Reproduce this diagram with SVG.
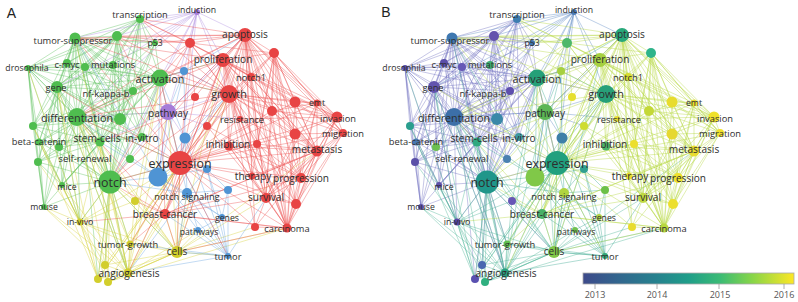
<svg xmlns="http://www.w3.org/2000/svg" xmlns:xlink="http://www.w3.org/1999/xlink" width="798" height="302" viewBox="0 0 798 302">
<style>
.e{fill:none;stroke-width:1;stroke-opacity:0.4}
.l{font-family:"Open Sans","Liberation Sans",sans-serif;fill:#2e2e2e;text-anchor:middle;dominant-baseline:central}
.f8{font-size:8.7px}.f9{font-size:9.3px}.f10{font-size:10.1px}.f11{font-size:10.8px}.f12{font-size:12.4px}
.G{fill:#4fbd4f}.R{fill:#e84444}.B{fill:#4f94d4}.P{fill:#a67cd8}.Y{fill:#d2ce2c}
.pl{font-family:"Liberation Sans",Arial,sans-serif;font-size:14px;fill:#222}
.tk{font-family:"Open Sans","Liberation Sans",sans-serif;font-size:9px;fill:#555;text-anchor:middle}
</style>
<defs>
<linearGradient id="vir" x1="0" y1="0" x2="1" y2="0">
<stop offset="0" stop-color="#3d4a8a"/><stop offset="0.18" stop-color="#31688e"/><stop offset="0.35" stop-color="#26828e"/><stop offset="0.5" stop-color="#1f9e89"/><stop offset="0.65" stop-color="#3bbb75"/><stop offset="0.8" stop-color="#86d549"/><stop offset="1" stop-color="#fde725"/>
</linearGradient>
<g id="eR">
<path class="e" d="M245 35L190 43M245 35L274 53M245 35L223 60M245 35L251 77M245 35L229 94M245 35L195 97M245 35L295 102M245 35L317 103M245 35L272 111M245 35L337 117M245 35L240 119M245 35L207 126M245 35L343 133M245 35L295 134M245 35L229 146M245 35L257 144M245 35L317 151M245 35L180 163M245 35L252 176M245 35L301 178M245 35L266 198M245 35L296 204M245 35L255 227M245 35L287 228M245 35L165 214M245 35L140 19M245 35L75 38M245 35L117 36M245 35L155 43M245 35L160 78M245 35L168 112M245 35L77 117M245 35L110 182"/>
<path class="e" d="M229 94L274 53M229 94L295 102M229 94L317 103M229 94L337 117M229 94L343 133M229 94L295 134M229 94L317 151M229 94L180 163M229 94L252 176M229 94L301 178M229 94L266 198M229 94L296 204M229 94L255 227M229 94L287 228M229 94L165 214M229 94L160 78M229 94L77 117M229 94L110 182M229 94L75 38M229 94L117 36M229 94L140 19M229 94L177 252M229 94L100 142M229 94L190 43M229 94L223 60M229 94L251 77M229 94L272 111M229 94L207 126M229 94L229 146M229 94L257 144"/>
<path class="e" d="M180 163L274 53M180 163L295 102M180 163L317 103M180 163L337 117M180 163L343 133M180 163L295 134M180 163L317 151M180 163L252 176M180 163L301 178M180 163L266 198M180 163L296 204M180 163L255 227M180 163L287 228M180 163L165 214M180 163L223 60M180 163L251 77M180 163L190 43M180 163L160 78M180 163L77 117M180 163L110 182M180 163L75 38M180 163L117 36M180 163L57 87M180 163L177 252M180 163L130 244M180 163L128 273M180 163L228 256M180 163L272 111M180 163L240 119M180 163L229 146M180 163L257 144M180 163L207 126M180 163L195 97"/>
<path class="e" d="M223 60L274 53M223 60L295 102M223 60L317 103M223 60L337 117M223 60L343 133M223 60L295 134M223 60L317 151M223 60L252 176M223 60L301 178M223 60L266 198M223 60L296 204M223 60L287 228M223 60L251 77M223 60L160 78M223 60L75 38M223 60L140 19M223 60L272 111M223 60L229 146M223 60L165 214M223 60L77 117"/>
<path class="e" d="M274 53L317 103M274 53L337 117M274 53L343 133M274 53L317 151M274 53L295 102M274 53L295 134M274 53L272 111M274 53L301 178M274 53L266 198M274 53L287 228M274 53L296 204M274 53L251 77M274 53L257 144M274 53L252 176"/>
<path class="e" d="M317 151L337 117M317 151L343 133M317 151L317 103M317 151L295 102M317 151L272 111M317 151L295 134M317 151L301 178M317 151L266 198M317 151L296 204M317 151L287 228M317 151L255 227M317 151L252 176M317 151L257 144M317 151L240 119M317 151L229 146M317 151L165 214M317 151L251 77"/>
<path class="e" d="M287 228L337 117M287 228L343 133M287 228L317 103M287 228L295 102M287 228L272 111M287 228L295 134M287 228L301 178M287 228L266 198M287 228L296 204M287 228L252 176M287 228L257 144M287 228L229 146M287 228L165 214M287 228L177 252M287 228L255 227M287 228L251 77M287 228L240 119"/>
<path class="e" d="M337 117L343 133M337 117L317 103M337 117L295 102M337 117L272 111M337 117L295 134M337 117L301 178M337 117L266 198M337 117L296 204M343 133L317 103M343 133L295 102M343 133L295 134M343 133L301 178M343 133L266 198M343 133L296 204M317 103L295 102M317 103L272 111M317 103L301 178M317 103L266 198"/>
<path class="e" d="M190 43L223 60M190 43L229 94M190 43L195 97M190 43L160 78M190 43L75 38M190 43L140 19M190 43L117 36M190 43L77 117M190 43L110 182M190 43L251 77M190 43L274 53"/>
<path class="e" d="M229 146L301 178M229 146L266 198M229 146L296 204M207 126L266 198M207 126L301 178M257 144L301 178M240 119L337 117M252 176L301 178M266 198L301 178M266 198L296 204M165 214L266 198M165 214L287 228M251 77L337 117M251 77L317 151M251 77L266 198M295 102L301 178M272 111L266 198M295 134L266 198M255 227L266 198M296 204L301 178"/>
<path class="e" d="M165 214L110 182M165 214L80 222M165 214L135 201M165 214L177 252M165 214L130 244M165 214L77 117M165 214L160 78M165 214L223 60M165 214L317 151M165 214L301 178"/>
</g>
<g id="eG">
<path class="e" d="M75 38L140 19M75 38L117 36M75 38L155 43M75 38L28 68M75 38L67 63M75 38L85 67M75 38L113 65M75 38L160 78M75 38L57 87M75 38L133 91M75 38L77 117M75 38L120 119M75 38L33 126M75 38L39 142M75 38L100 142M75 38L142 137M75 38L38 162M75 38L110 182M75 38L62 185M75 38L168 112M75 38L59 147M75 38L129 159"/>
<path class="e" d="M140 19L117 36M140 19L155 43M140 19L67 63M140 19L113 65M140 19L160 78M140 19L57 87M140 19L133 91M140 19L77 117M140 19L120 119M140 19L100 142M140 19L142 137M140 19L110 182M140 19L85 67M140 19L28 68"/>
<path class="e" d="M117 36L155 43M117 36L28 68M117 36L67 63M117 36L85 67M117 36L113 65M117 36L160 78M117 36L57 87M117 36L133 91M117 36L77 117M117 36L120 119M117 36L100 142M117 36L110 182M117 36L33 126M117 36L142 137M117 36L129 159"/>
<path class="e" d="M57 87L28 68M57 87L67 63M57 87L85 67M57 87L113 65M57 87L160 78M57 87L77 117M57 87L120 119M57 87L33 126M57 87L39 142M57 87L59 147M57 87L100 142M57 87L142 137M57 87L38 162M57 87L110 182M57 87L62 185M57 87L44 207M57 87L133 91M57 87L155 43"/>
<path class="e" d="M77 117L28 68M77 117L67 63M77 117L85 67M77 117L113 65M77 117L160 78M77 117L133 91M77 117L120 119M77 117L33 126M77 117L39 142M77 117L59 147M77 117L100 142M77 117L142 137M77 117L38 162M77 117L129 159M77 117L110 182M77 117L62 185M77 117L44 207M77 117L180 163M77 117L168 112M77 117L155 43"/>
<path class="e" d="M110 182L28 68M110 182L67 63M110 182L85 67M110 182L113 65M110 182L160 78M110 182L133 91M110 182L120 119M110 182L33 126M110 182L39 142M110 182L59 147M110 182L100 142M110 182L142 137M110 182L38 162M110 182L129 159M110 182L62 185M110 182L44 207M110 182L180 163M110 182L80 222M110 182L128 273M110 182L130 244M110 182L105 265M110 182L177 252M110 182L155 43M110 182L98 279"/>
<path class="e" d="M160 78L155 43M160 78L67 63M160 78L85 67M160 78L113 65M160 78L133 91M160 78L120 119M160 78L100 142M160 78L142 137M160 78L129 159M160 78L180 163M160 78L229 94M160 78L223 60M160 78L62 185M160 78L39 142M160 78L33 126M160 78L28 68M160 78L38 162"/>
<path class="e" d="M28 68L67 63M28 68L85 67M28 68L33 126M28 68L39 142M28 68L38 162M28 68L100 142M28 68L120 119M28 68L113 65M28 68L133 91M28 68L44 207"/>
<path class="e" d="M44 207L38 162M44 207L33 126M44 207L39 142M44 207L100 142M44 207L59 147M62 185L38 162M62 185L100 142M62 185L39 142M62 185L120 119M38 162L100 142M38 162L120 119M33 126L100 142M33 126L120 119M39 142L100 142M39 142L142 137M59 147L100 142M67 63L133 91M67 63L120 119M67 63L113 65M85 67L120 119M85 67L100 142M113 65L120 119M113 65L142 137M133 91L100 142M133 91L120 119M100 142L142 137M155 43L120 119M155 43L100 142"/>
<path class="e" d="M57 87L128 273M77 117L128 273M77 117L80 222M57 87L80 222M75 38L98 279M28 68L80 222M33 126L80 222"/>
</g>
<g id="eY">
<path class="e" d="M128 273L130 244M128 273L177 252M128 273L135 201M128 273L80 222M128 273L105 265M128 273L98 279M128 273L108 282M128 273L110 182M128 273L180 163M128 273L100 142M128 273L77 117M128 273L44 207M128 273L62 185M128 273L57 87M128 273L168 112M128 273L229 94M128 273L165 214M128 273L75 38M128 273L160 78M128 273L198 230"/>
<path class="e" d="M80 222L130 244M80 222L177 252M80 222L105 265M80 222L98 279M80 222L108 282M80 222L44 207M80 222L62 185M80 222L38 162M80 222L33 126M80 222L39 142M80 222L100 142M80 222L110 182M80 222L180 163M80 222L28 68M80 222L57 87M80 222L135 201"/>
<path class="e" d="M177 252L130 244M177 252L135 201M177 252L105 265M177 252L98 279M177 252L108 282M177 252L180 163M177 252L110 182M177 252L165 214M177 252L287 228M177 252L229 94M177 252L168 112M177 252L187 193M177 252L198 230M177 252L228 256M177 252L255 227M177 252L266 198M177 252L317 151M177 252L223 60M177 252L77 117M177 252L100 142"/>
<path class="e" d="M105 265L110 182M98 279L110 182M108 282L110 182M105 265L180 163M98 279L180 163M108 282L180 163M130 244L110 182M130 244L180 163M135 201L110 182M135 201L180 163M108 282L177 252M98 279L80 222M105 265L77 117M98 279L57 87M108 282L100 142M130 244L77 117M105 265L44 207M98 279L33 126M135 201L77 117M135 201L160 78M108 282L287 228M98 279L229 94"/>
</g>
<g id="eB">
<path class="e" d="M228 256L222 217M228 256L198 230M228 256L187 193M228 256L228 190M228 256L207 169M228 256L180 163M228 256L158 177M228 256L177 252M228 256L165 214M228 256L128 273M228 256L130 244M228 256L185 138M228 256L266 198"/>
<path class="e" d="M158 177L187 193M158 177L207 169M158 177L222 217M158 177L198 230M158 177L180 163M158 177L110 182M158 177L77 117M158 177L168 112M158 177L160 78M158 177L185 138M158 177L184 71M158 177L100 142M158 177L229 94M158 177L75 38"/>
<path class="e" d="M187 193L222 217M187 193L198 230M187 193L228 190M187 193L207 169M187 193L185 138M187 193L180 163M187 193L110 182M187 193L177 252M187 193L128 273"/>
<path class="e" d="M185 138L184 71M185 138L180 163M185 138L160 78M184 71L229 94M184 71L168 112M184 71L160 78M228 190L207 169M228 190L222 217M207 169L222 217M198 230L222 217M185 138L229 94M184 71L245 35"/>
</g>
<g id="eP">
<path class="e" d="M197 12L140 19M197 12L75 38M197 12L117 36M197 12L155 43M197 12L160 78M197 12L168 112M197 12L245 35M197 12L190 43M197 12L223 60M197 12L229 94M197 12L180 163M197 12L77 117M197 12L110 182M197 12L113 65M197 12L57 87M197 12L184 71"/>
<path class="e" d="M168 112L160 78M168 112L180 163M168 112L229 94M168 112L223 60M168 112L245 35M168 112L77 117M168 112L110 182M168 112L158 177M168 112L185 138M168 112L100 142M168 112L207 126M168 112L240 119"/>
</g>
</defs>

<g id="connectors">
<g id="edges-A">
<use xlink:href="#eG" stroke="#5cc05c"/>
<use xlink:href="#eY" stroke="#d6d23a"/>
<use xlink:href="#eB" stroke="#6aa6e0"/>
<use xlink:href="#eP" stroke="#b08ee0"/>
<use xlink:href="#eR" stroke="#ee5252"/>
</g>
<g id="edges-B" transform="translate(377,0)">
<use xlink:href="#eG" stroke="#7070c0"/>
<use xlink:href="#eY" stroke="#4ab496"/>
<use xlink:href="#eB" stroke="#3aa890"/>
<use xlink:href="#eP" stroke="#5a86c4"/>
<use xlink:href="#eR" stroke="#b4d83c"/>
</g>
</g>

<text class="pl" x="11.5" y="18" text-anchor="middle">A</text>
<text class="pl" x="386" y="17" text-anchor="middle">B</text>

<g id="nodes-A">
<g id="A-n1"><circle cx="117" cy="36" r="5" class="G"/></g>
<g id="A-n2"><circle cx="85" cy="67" r="4" class="G"/></g>
<g id="A-n3"><circle cx="184" cy="71" r="4" class="B"/></g>
<g id="A-n4"><circle cx="120" cy="119" r="6" class="G"/></g>
<g id="A-n5"><circle cx="195" cy="97" r="4" class="R"/></g>
<g id="A-n6"><circle cx="33" cy="126" r="4" class="G"/></g>
<g id="A-n7"><circle cx="59" cy="147" r="4" class="G"/></g>
<g id="A-n8"><circle cx="185" cy="138" r="5.5" class="B"/></g>
<g id="A-n9"><circle cx="190" cy="43" r="5" class="R"/></g>
<g id="A-n10"><circle cx="274" cy="53" r="5" class="R"/></g>
<g id="A-n11"><circle cx="295" cy="102" r="5.5" class="R"/></g>
<g id="A-n12"><circle cx="272" cy="111" r="5" class="R"/></g>
<g id="A-n13"><circle cx="207" cy="126" r="4" class="R"/></g>
<g id="A-n14"><circle cx="295" cy="134" r="5.5" class="R"/></g>
<g id="A-n15"><circle cx="257" cy="144" r="4" class="R"/></g>
<g id="A-n16"><circle cx="130" cy="159" r="4" class="G"/></g>
<g id="A-n17"><circle cx="158" cy="177" r="9.5" class="B"/></g>
<g id="A-n18"><circle cx="135" cy="201" r="4" class="Y"/></g>
<g id="A-n19"><circle cx="207" cy="169" r="4" class="B"/></g>
<g id="A-n20"><circle cx="228" cy="190" r="4" class="B"/></g>
<g id="A-n21"><circle cx="296" cy="204" r="5" class="R"/></g>
<g id="A-n22"><circle cx="255" cy="227" r="4" class="R"/></g>
<g id="A-n23"><circle cx="105" cy="265" r="4" class="Y"/></g>
<g id="A-n24"><circle cx="98" cy="279" r="4" class="Y"/></g>
<g id="A-n25"><circle cx="108" cy="282" r="4" class="Y"/></g>
<g id="A-expression"><circle cx="180" cy="163" r="12" class="R"/><text class="l f12" x="180" y="163">expression</text></g>
<g id="A-notch"><circle cx="110" cy="182" r="11.5" class="G"/><text class="l f12" x="110" y="182">notch</text></g>
<g id="A-growth"><circle cx="229" cy="94" r="9" class="R"/><text class="l f11" x="229" y="93">growth</text></g>
<g id="A-differentiation"><circle cx="77" cy="117" r="9" class="G"/><text class="l f11" x="77" y="117">differentiation</text></g>
<g id="A-activation"><circle cx="160" cy="78" r="8.5" class="G"/><text class="l f11" x="160" y="78">activation</text></g>
<g id="A-pathway"><circle cx="168" cy="112" r="8" class="P"/><text class="l f10" x="168" y="113">pathway</text></g>
<g id="A-apoptosis"><circle cx="245" cy="35" r="7" class="R"/><text class="l f10" x="245" y="34">apoptosis</text></g>
<g id="A-proliferation"><circle cx="223" cy="60" r="7" class="R"/><text class="l f10" x="223" y="59">proliferation</text></g>
<g id="A-transcription"><circle cx="140" cy="19" r="4" class="G"/><text class="l f9" x="140" y="14">transcription</text></g>
<g id="A-induction"><circle cx="197" cy="12" r="3" class="P"/><text class="l f8" x="197" y="10">induction</text></g>
<g id="A-tumor-suppressor"><circle cx="75" cy="38" r="5.5" class="G"/><text class="l f9" x="73" y="40">tumor-suppressor</text></g>
<g id="A-p53"><circle cx="155" cy="43" r="3" class="G"/><text class="l f8" x="155" y="43">p53</text></g>
<g id="A-drosophila"><circle cx="28" cy="68" r="3" class="G"/><text class="l f8" x="27" y="68">drosophila</text></g>
<g id="A-c-myc"><circle cx="67" cy="63" r="4" class="G"/><text class="l f9" x="67" y="64">c-myc</text></g>
<g id="A-mutations"><circle cx="113" cy="65" r="4" class="G"/><text class="l f9" x="113" y="64">mutations</text></g>
<g id="A-notch1"><circle cx="251" cy="77" r="4" class="R"/><text class="l f9" x="251" y="77">notch1</text></g>
<g id="A-gene"><circle cx="57" cy="87" r="6" class="G"/><text class="l f9" x="56" y="87">gene</text></g>
<g id="A-nf-kappa-b"><circle cx="133" cy="91" r="4" class="G"/><text class="l f9" x="106" y="93">nf-kappa-b</text></g>
<g id="A-emt"><circle cx="317" cy="103" r="3.5" class="R"/><text class="l f8" x="317" y="103">emt</text></g>
<g id="A-invasion"><circle cx="337" cy="117" r="5.5" class="R"/><text class="l f9" x="338" y="118">invasion</text></g>
<g id="A-resistance"><circle cx="240" cy="119" r="3" class="R"/><text class="l f9" x="242" y="119">resistance</text></g>
<g id="A-migration"><circle cx="343" cy="133" r="4" class="R"/><text class="l f9" x="343" y="133">migration</text></g>
<g id="A-stem-cells"><circle cx="100" cy="142" r="4.5" class="G"/><text class="l f10" x="97" y="138">stem-cells</text></g>
<g id="A-in-vitro"><circle cx="142" cy="137" r="4" class="G"/><text class="l f10" x="142" y="138">in-vitro</text></g>
<g id="A-beta-catenin"><circle cx="39" cy="142" r="3.5" class="G"/><text class="l f9" x="39" y="141">beta-catenin</text></g>
<g id="A-inhibition"><circle cx="229" cy="146" r="4.5" class="R"/><text class="l f10" x="228" y="144">inhibition</text></g>
<g id="A-metastasis"><circle cx="317" cy="151" r="5.5" class="R"/><text class="l f10" x="317" y="149">metastasis</text></g>
<g id="A-self-renewal"><circle cx="38" cy="162" r="4" class="G"/><text class="l f9" x="85" y="158">self-renewal</text></g>
<g id="A-therapy"><circle cx="252" cy="176" r="3.5" class="R"/><text class="l f10" x="253" y="176">therapy</text></g>
<g id="A-progression"><circle cx="301" cy="178" r="5" class="R"/><text class="l f10" x="301" y="178">progression</text></g>
<g id="A-mice"><circle cx="62" cy="185" r="3" class="G"/><text class="l f8" x="67" y="187">mice</text></g>
<g id="A-notch-signaling"><circle cx="187" cy="193" r="5" class="B"/><text class="l f9" x="187" y="196">notch signaling</text></g>
<g id="A-survival"><circle cx="266" cy="198" r="5" class="R"/><text class="l f10" x="266" y="197">survival</text></g>
<g id="A-mouse"><circle cx="44" cy="207" r="3" class="G"/><text class="l f8" x="44" y="207">mouse</text></g>
<g id="A-breast-cancer"><circle cx="165" cy="214" r="5" class="R"/><text class="l f10" x="165" y="214">breast-cancer</text></g>
<g id="A-genes"><circle cx="222" cy="217" r="3" class="B"/><text class="l f8" x="227" y="218">genes</text></g>
<g id="A-in-vivo"><circle cx="80" cy="222" r="3.5" class="Y"/><text class="l f8" x="80" y="222">in-vivo</text></g>
<g id="A-carcinoma"><circle cx="287" cy="228" r="4.5" class="R"/><text class="l f9" x="287" y="228">carcinoma</text></g>
<g id="A-pathways"><circle cx="198" cy="230" r="3" class="B"/><text class="l f8" x="199" y="232">pathways</text></g>
<g id="A-tumor-growth"><circle cx="130" cy="244" r="3.5" class="Y"/><text class="l f9" x="128" y="244">tumor-growth</text></g>
<g id="A-cells"><circle cx="177" cy="252" r="6" class="Y"/><text class="l f10" x="177" y="251">cells</text></g>
<g id="A-tumor"><circle cx="228" cy="256" r="3" class="B"/><text class="l f9" x="228" y="256">tumor</text></g>
<g id="A-angiogenesis"><circle cx="128" cy="273" r="4.5" class="Y"/><text class="l f10" x="129" y="273">angiogenesis</text></g>
</g>

<g id="nodes-B">
<g id="B-n1"><circle cx="494" cy="36" r="5" fill="#6452ad"/></g>
<g id="B-n2"><circle cx="462" cy="67" r="4" fill="#6658b6"/></g>
<g id="B-n3"><circle cx="561" cy="71" r="4" fill="#a6d040"/></g>
<g id="B-n4"><circle cx="497" cy="119" r="6" fill="#3a88a8"/></g>
<g id="B-n5"><circle cx="572" cy="97" r="4" fill="#e6df2e"/></g>
<g id="B-n6"><circle cx="410" cy="126" r="4" fill="#2a9e8e"/></g>
<g id="B-n7"><circle cx="436" cy="147" r="4" fill="#6cc050"/></g>
<g id="B-n8"><circle cx="562" cy="138" r="5.5" fill="#3d7fa8"/></g>
<g id="B-n9"><circle cx="567" cy="43" r="5" fill="#4db86a"/></g>
<g id="B-n10"><circle cx="651" cy="53" r="5" fill="#2fb48a"/></g>
<g id="B-n11"><circle cx="672" cy="102" r="5.5" fill="#e8dc2e"/></g>
<g id="B-n12"><circle cx="649" cy="111" r="5" fill="#c4d838"/></g>
<g id="B-n13"><circle cx="584" cy="126" r="4" fill="#cedc30"/></g>
<g id="B-n14"><circle cx="672" cy="134" r="5.5" fill="#e6d830"/></g>
<g id="B-n15"><circle cx="634" cy="144" r="4" fill="#ecdf2e"/></g>
<g id="B-n16"><circle cx="507" cy="159" r="4" fill="#4a80b0"/></g>
<g id="B-n17"><circle cx="535" cy="177" r="9.5" fill="#80c848"/></g>
<g id="B-n18"><circle cx="512" cy="201" r="4" fill="#6656b6"/></g>
<g id="B-n19"><circle cx="584" cy="169" r="4" fill="#30a090"/></g>
<g id="B-n20"><circle cx="605" cy="190" r="4" fill="#6cc048"/></g>
<g id="B-n21"><circle cx="673" cy="204" r="5" fill="#ecdf2e"/></g>
<g id="B-n22"><circle cx="632" cy="227" r="4" fill="#e8dc2e"/></g>
<g id="B-n23"><circle cx="482" cy="265" r="4" fill="#4a68b0"/></g>
<g id="B-n24"><circle cx="475" cy="279" r="4" fill="#5a50b0"/></g>
<g id="B-n25"><circle cx="485" cy="282" r="4" fill="#30b080"/></g>
<g id="B-expression"><circle cx="557" cy="163" r="12" fill="#21a07e"/><text class="l f12" x="557" y="163">expression</text></g>
<g id="B-notch"><circle cx="487" cy="182" r="11.5" fill="#20968a"/><text class="l f12" x="487" y="182">notch</text></g>
<g id="B-growth"><circle cx="606" cy="94" r="9" fill="#27a078"/><text class="l f11" x="606" y="93">growth</text></g>
<g id="B-differentiation"><circle cx="454" cy="117" r="9" fill="#3c6fa8"/><text class="l f11" x="454" y="117">differentiation</text></g>
<g id="B-activation"><circle cx="537" cy="78" r="8.5" fill="#25a078"/><text class="l f11" x="537" y="78">activation</text></g>
<g id="B-pathway"><circle cx="545" cy="112" r="8" fill="#5cb654"/><text class="l f10" x="545" y="113">pathway</text></g>
<g id="B-apoptosis"><circle cx="622" cy="35" r="7" fill="#27a87a"/><text class="l f10" x="622" y="34">apoptosis</text></g>
<g id="B-proliferation"><circle cx="600" cy="60" r="7" fill="#a6d040"/><text class="l f10" x="600" y="59">proliferation</text></g>
<g id="B-transcription"><circle cx="517" cy="19" r="4" fill="#3d7db0"/><text class="l f9" x="517" y="14">transcription</text></g>
<g id="B-induction"><circle cx="574" cy="12" r="3" fill="#4a7ab4"/><text class="l f8" x="574" y="10">induction</text></g>
<g id="B-tumor-suppressor"><circle cx="452" cy="38" r="5.5" fill="#3f78b0"/><text class="l f9" x="450" y="40">tumor-suppressor</text></g>
<g id="B-p53"><circle cx="532" cy="43" r="3" fill="#3f74ae"/><text class="l f8" x="532" y="43">p53</text></g>
<g id="B-drosophila"><circle cx="405" cy="68" r="3" fill="#574da6"/><text class="l f8" x="404" y="68">drosophila</text></g>
<g id="B-c-myc"><circle cx="444" cy="63" r="4" fill="#5a4ea8"/><text class="l f9" x="444" y="64">c-myc</text></g>
<g id="B-mutations"><circle cx="490" cy="65" r="4" fill="#3fae72"/><text class="l f9" x="490" y="64">mutations</text></g>
<g id="B-notch1"><circle cx="628" cy="77" r="4" fill="#d6dc30"/><text class="l f9" x="628" y="77">notch1</text></g>
<g id="B-gene"><circle cx="434" cy="87" r="6" fill="#6254ae"/><text class="l f9" x="433" y="87">gene</text></g>
<g id="B-nf-kappa-b"><circle cx="510" cy="91" r="4" fill="#5e4fad"/><text class="l f9" x="483" y="93">nf-kappa-b</text></g>
<g id="B-emt"><circle cx="694" cy="103" r="3.5" fill="#e8dc2e"/><text class="l f8" x="694" y="103">emt</text></g>
<g id="B-invasion"><circle cx="714" cy="117" r="5.5" fill="#f0e12c"/><text class="l f9" x="715" y="118">invasion</text></g>
<g id="B-resistance"><circle cx="617" cy="119" r="3" fill="#e6dc30"/><text class="l f9" x="619" y="119">resistance</text></g>
<g id="B-migration"><circle cx="720" cy="133" r="4" fill="#f0e12c"/><text class="l f9" x="720" y="133">migration</text></g>
<g id="B-stem-cells"><circle cx="477" cy="142" r="4.5" fill="#2fa880"/><text class="l f10" x="474" y="138">stem-cells</text></g>
<g id="B-in-vitro"><circle cx="519" cy="137" r="4" fill="#3a98a0"/><text class="l f10" x="519" y="138">in-vitro</text></g>
<g id="B-beta-catenin"><circle cx="416" cy="142" r="3.5" fill="#4a78b0"/><text class="l f9" x="416" y="141">beta-catenin</text></g>
<g id="B-inhibition"><circle cx="606" cy="146" r="4.5" fill="#4cb468"/><text class="l f10" x="605" y="144">inhibition</text></g>
<g id="B-metastasis"><circle cx="694" cy="151" r="5.5" fill="#e8dc30"/><text class="l f10" x="694" y="149">metastasis</text></g>
<g id="B-self-renewal"><circle cx="415" cy="162" r="4" fill="#5a50a8"/><text class="l f9" x="462" y="158">self-renewal</text></g>
<g id="B-therapy"><circle cx="629" cy="176" r="3.5" fill="#e8dc30"/><text class="l f10" x="630" y="176">therapy</text></g>
<g id="B-progression"><circle cx="678" cy="178" r="5" fill="#f0e12c"/><text class="l f10" x="678" y="178">progression</text></g>
<g id="B-mice"><circle cx="439" cy="185" r="3" fill="#5e50a8"/><text class="l f8" x="444" y="187">mice</text></g>
<g id="B-notch-signaling"><circle cx="564" cy="193" r="5" fill="#b0d440"/><text class="l f9" x="564" y="196">notch signaling</text></g>
<g id="B-survival"><circle cx="643" cy="198" r="5" fill="#c0d840"/><text class="l f10" x="643" y="197">survival</text></g>
<g id="B-mouse"><circle cx="421" cy="207" r="3" fill="#5c4fa8"/><text class="l f8" x="421" y="207">mouse</text></g>
<g id="B-breast-cancer"><circle cx="542" cy="214" r="5" fill="#48b068"/><text class="l f10" x="542" y="214">breast-cancer</text></g>
<g id="B-genes"><circle cx="599" cy="217" r="3" fill="#b4d444"/><text class="l f8" x="604" y="218">genes</text></g>
<g id="B-in-vivo"><circle cx="457" cy="222" r="3.5" fill="#5646a6"/><text class="l f8" x="457" y="222">in-vivo</text></g>
<g id="B-carcinoma"><circle cx="664" cy="228" r="4.5" fill="#b8d840"/><text class="l f9" x="664" y="228">carcinoma</text></g>
<g id="B-pathways"><circle cx="575" cy="230" r="3" fill="#70c250"/><text class="l f8" x="576" y="232">pathways</text></g>
<g id="B-tumor-growth"><circle cx="507" cy="244" r="3.5" fill="#60c050"/><text class="l f9" x="505" y="244">tumor-growth</text></g>
<g id="B-cells"><circle cx="554" cy="252" r="6" fill="#80c848"/><text class="l f10" x="554" y="251">cells</text></g>
<g id="B-tumor"><circle cx="605" cy="256" r="3" fill="#30a878"/><text class="l f9" x="605" y="256">tumor</text></g>
<g id="B-angiogenesis"><circle cx="505" cy="273" r="4.5" fill="#28a080"/><text class="l f10" x="506" y="273">angiogenesis</text></g>
</g>

<g id="colorbar">
<rect x="583" y="273" width="211" height="11" fill="url(#vir)" stroke="#aaa" stroke-width="0.8"/>
<path d="M595 284V289M657 284V289M719 284V289M784 284V289" stroke="#999" stroke-width="0.8"/>
<text class="tk" x="595" y="298">2013</text>
<text class="tk" x="657" y="298">2014</text>
<text class="tk" x="720" y="298">2015</text>
<text class="tk" x="784" y="298">2016</text>
</g>
</svg>
